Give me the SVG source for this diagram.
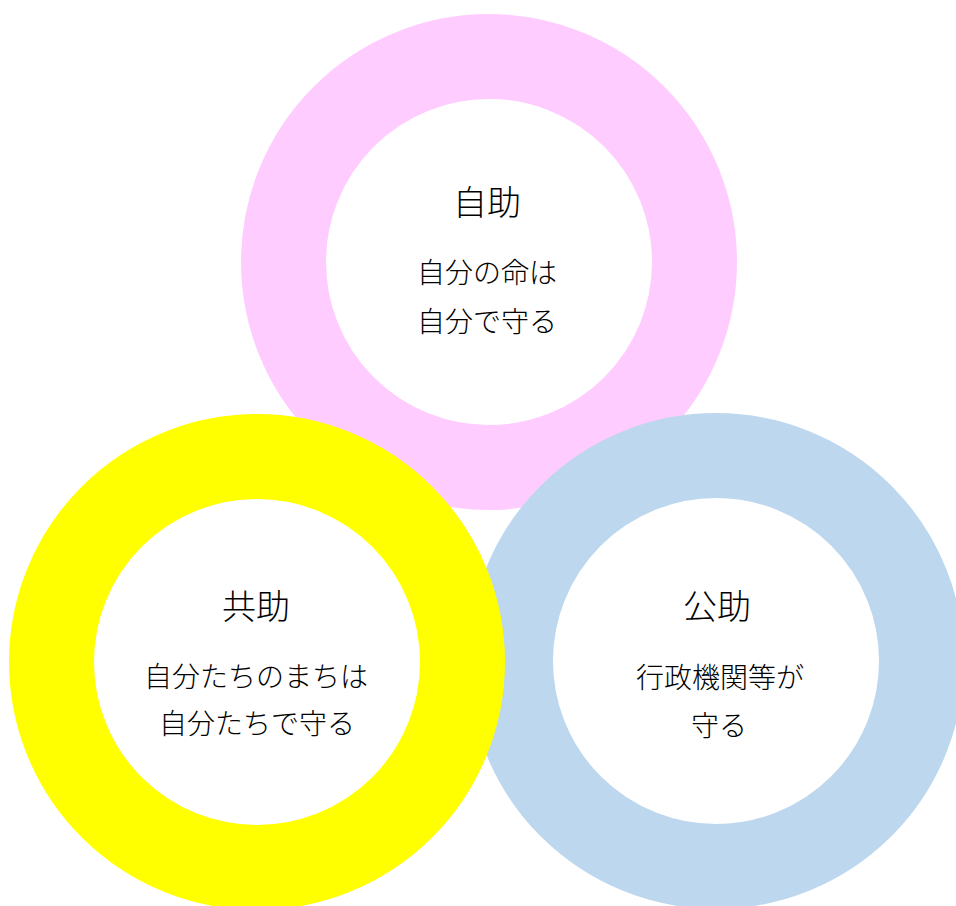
<svg xmlns="http://www.w3.org/2000/svg" width="956" height="906" viewBox="0 0 956 906">
<style>
.ring{fill:#FFFFFF;stroke-width:85}
.t{font-family:"Noto Sans CJK JP","Noto Sans",sans-serif;fill:#000;text-anchor:middle;font-weight:300}
.h{font-size:34px}
.s{font-size:28px}
</style>
<rect width="956" height="906" fill="#FFFFFF"/>
<g id="jijo">
<circle class="ring" cx="489" cy="262" r="205.5" stroke="#FFCCFF"/>
<text class="t h" x="487" y="215">自助</text>
<text class="t s" x="487" y="283">自分の命は</text>
<text class="t s" x="487" y="332">自分で守る</text>
</g>
<g id="kojo">
<circle class="ring" cx="716" cy="661" r="205.5" stroke="#BDD7EE"/>
<text class="t h" x="717" y="619">公助</text>
<text class="t s" x="720" y="688">行政機関等が</text>
<text class="t s" x="719" y="736">守る</text>
</g>
<g id="kyojo">
<circle class="ring" cx="257" cy="662" r="205.5" stroke="#FFFF00"/>
<text class="t h" x="256" y="619">共助</text>
<text class="t s" x="256" y="687">自分たちのまちは</text>
<text class="t s" x="257" y="734">自分たちで守る</text>
</g>
<g id="connectors"></g>
</svg>
